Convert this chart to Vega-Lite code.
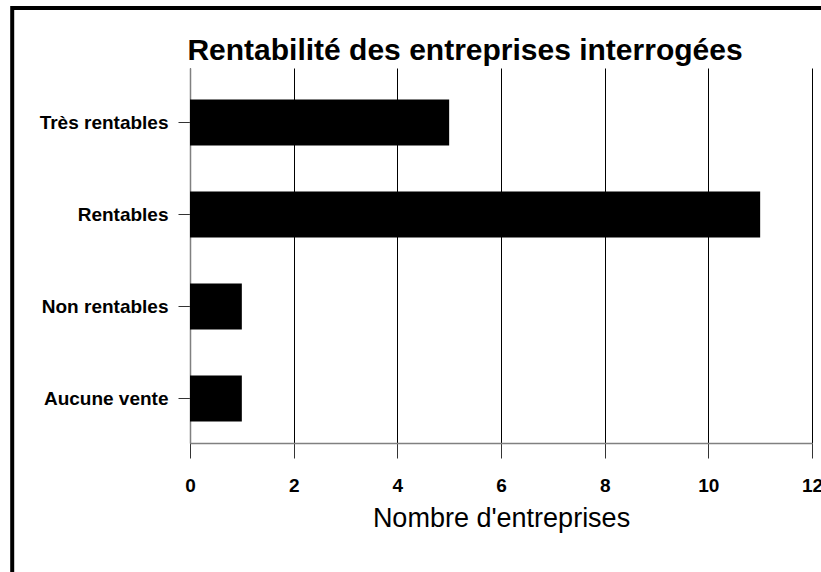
{
  "$schema": "https://vega.github.io/schema/vega-lite/v6.json",
  "width": 622,
  "height": 375,
  "autosize": "none",
  "padding": {"left": 190, "top": 68, "right": 9, "bottom": 129},
  "background": "white",
  "title": {
    "text": "Rentabilité des entreprises interrogées",
    "font": "Liberation Sans",
    "fontSize": 30,
    "fontWeight": "bold",
    "color": "black",
    "anchor": "middle",
    "frame": "group",
    "dx": -36,
    "baseline": "alphabetic",
    "offset": -84
  },
  "config": {"view": {"stroke": null}},
  "data": {
    "values": [
      {"categorie": "Très rentables", "nombre": 5},
      {"categorie": "Rentables", "nombre": 11},
      {"categorie": "Non rentables", "nombre": 1},
      {"categorie": "Aucune vente", "nombre": 1}
    ]
  },
  "layer": [
    {
      "mark": {"type": "bar", "color": "black"},
      "encoding": {
        "y": {
          "field": "categorie",
          "type": "nominal",
          "sort": ["Très rentables", "Rentables", "Non rentables", "Aucune vente"],
          "scale": {"paddingInner": 0.5, "paddingOuter": 0.288, "align": 0.596},
          "axis": {
            "title": null,
            "labelFont": "Liberation Sans",
            "labelFontSize": 19,
            "labelFontWeight": "bold",
            "labelColor": "black",
            "labelPadding": 10,
            "tickSize": 12,
            "tickColor": "#333333",
            "domainColor": "#808080",
            "domainWidth": 1.5,
            "grid": false
          }
        },
        "x": {
          "field": "nombre",
          "type": "quantitative",
          "scale": {"domain": [0, 12], "nice": false},
          "axis": {
            "title": "Nombre d'entreprises",
            "titleFont": "Liberation Sans",
            "titleFontSize": 27,
            "titleFontWeight": "normal",
            "titleColor": "black",
            "titlePadding": 10,
            "values": [0, 2, 4, 6, 8, 10, 12],
            "grid": true,
            "gridColor": "black",
            "gridOpacity": 1,
            "gridWidth": 1,
            "domainColor": "#808080",
            "domainWidth": 1.5,
            "tickColor": "#333333",
            "tickSize": 15,
            "labelFont": "Liberation Sans",
            "labelFontSize": 19,
            "labelFontWeight": "bold",
            "labelColor": "black",
            "labelPadding": 18,
            "labelFlush": false,
            "labelOverlap": false
          }
        }
      }
    },
    {
      "data": {"values": [{"cadre": 1}]},
      "mark": {"type": "rect", "fillOpacity": 0, "stroke": "black", "strokeWidth": 4},
      "encoding": {
        "x": {"datum": -3.43, "type": "quantitative"},
        "x2": {"datum": 20},
        "y": {"datum": 435, "type": "quantitative", "scale": {"domain": [0, 375], "nice": false, "zero": false}, "axis": null},
        "y2": {"datum": -200}
      }
    }
  ],
  "resolve": {"scale": {"y": "independent"}}
}
